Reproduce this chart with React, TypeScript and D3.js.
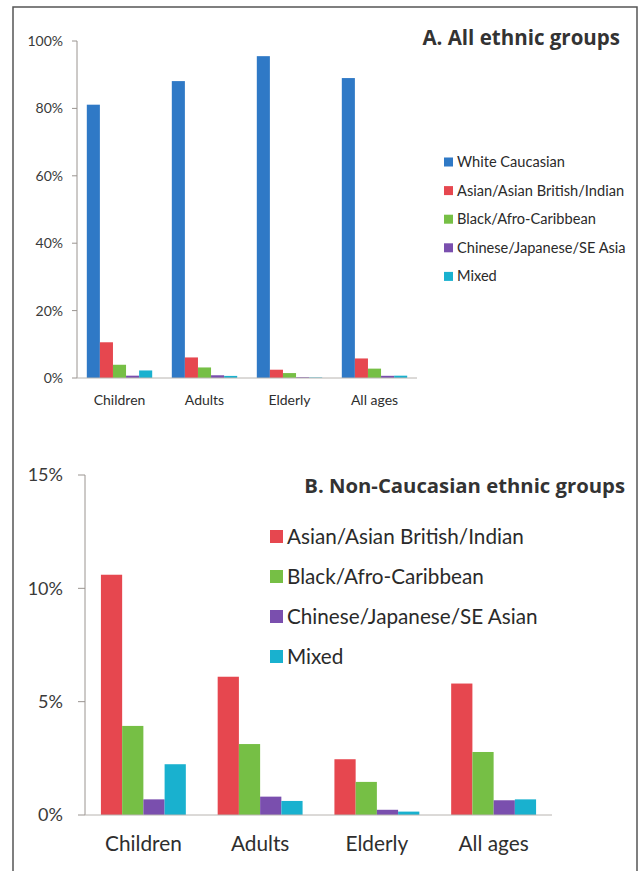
import * as d3 from "d3";

const categories = ["Children", "Adults", "Elderly", "All ages"];

const seriesA = [
  "White Caucasian",
  "Asian/Asian British/Indian",
  "Black/Afro-Caribbean",
  "Chinese/Japanese/SE Asia",
  "Mixed",
];
const seriesB = [
  "Asian/Asian British/Indian",
  "Black/Afro-Caribbean",
  "Chinese/Japanese/SE Asian",
  "Mixed",
];

// percent values per category (Children, Adults, Elderly, All ages)
const white = [81.1, 88.1, 95.5, 89.0];
const asian = [10.6, 6.1, 2.46, 5.8];
const black = [3.93, 3.13, 1.46, 2.78];
const chinese = [0.69, 0.81, 0.23, 0.65];
const mixed = [2.24, 0.62, 0.15, 0.69];

const ticksA = [0, 20, 40, 60, 80, 100];
const ticksB = [0, 5, 10, 15];

const colors = ["#2f79c6", "#e6474f", "#76bf45", "#7a4fae", "#19b1cf"];

const FONT = "Lato, 'Open Sans', sans-serif";
const TITLE_FONT = "'Open Sans', Lato, sans-serif";

interface PanelProps {
  title: string;
  names: string[];
  values: number[][];
  cols: string[];
  ticks: number[];
  yMax: number;
  x0: number;
  x1: number;
  yTop: number;
  yBottom: number;
  tickLen: number;
  tickGap: number;
  tickFont: number;
  catFont: number;
  catY: number;
  titleX: number;
  titleY: number;
  titleFont: number;
  legX: number;
  legY: number;
  legStep: number;
  legSw: number;
  legFont: number;
  legDy: number;
}

function Panel(p: PanelProps) {
  const x = d3.scaleBand().domain(categories).range([p.x0, p.x1]).padding(0);
  const inner = d3
    .scaleBand()
    .domain(p.names)
    .range([0, x.bandwidth()])
    .paddingInner(0)
    .paddingOuter(0.75);
  const y = d3.scaleLinear().domain([0, p.yMax]).range([p.yBottom, p.yTop]);

  return (
    <g>
      {/* bars */}
      {categories.map((c, ci) => (
        <g key={c} transform={`translate(${x(c)},0)`}>
          {p.names.map((s, si) => (
            <rect
              key={s}
              x={inner(s)}
              y={y(p.values[si][ci])}
              width={inner.bandwidth()}
              height={y(0) - y(p.values[si][ci])}
              fill={p.cols[si]}
            />
          ))}
        </g>
      ))}

      {/* axes */}
      <line x1={p.x0} x2={p.x0} y1={p.yTop} y2={p.yBottom} stroke="#9a9490" strokeWidth={1} />
      <line x1={p.x0} x2={p.x1} y1={p.yBottom} y2={p.yBottom} stroke="#b8b4b0" strokeWidth={1} />
      {p.ticks.map((t) => (
        <g key={t}>
          <line x1={p.x0 - p.tickLen} x2={p.x0} y1={y(t)} y2={y(t)} stroke="#9a9490" />
          <text
            x={p.x0 - p.tickLen - p.tickGap}
            y={y(t)}
            dy="0.36em"
            textAnchor="end"
            fontSize={p.tickFont}
            fill="#3a3a3a"
            fontFamily={FONT}
          >
            {t}%
          </text>
        </g>
      ))}
      {categories.map((c) => (
        <text
          key={c}
          x={(x(c) ?? 0) + x.bandwidth() / 2}
          y={p.catY}
          textAnchor="middle"
          fontSize={p.catFont}
          fill="#2e2e2e"
          fontFamily={FONT}
        >
          {c}
        </text>
      ))}

      {/* title */}
      <text
        x={p.titleX}
        y={p.titleY}
        textAnchor="end"
        fontSize={p.titleFont}
        fontWeight="bold"
        fill="#333"
        fontFamily={TITLE_FONT}
      >
        {p.title}
      </text>

      {/* legend */}
      {p.names.map((s, i) => {
        const cy = p.legY + i * p.legStep;
        return (
          <g key={s}>
            <rect x={p.legX} y={cy - p.legSw / 2} width={p.legSw} height={p.legSw} fill={p.cols[i]} />
            <text
              x={p.legX + p.legSw + 4}
              y={cy + p.legDy}
              fontSize={p.legFont}
              fill="#2a2a2a"
              fontFamily={FONT}
            >
              {s}
            </text>
          </g>
        );
      })}
    </g>
  );
}

export default function App() {
  return (
    <svg
      width={643}
      height={871}
      style={{ position: "absolute", left: 0, top: 0, background: "#fff" }}
    >
      <rect width={643} height={871} fill="#fff" />
      {/* outer frame */}
      <path d="M13,871 V7 H637 V871" fill="none" stroke="#555" strokeWidth={1.5} />

      <Panel
        title="A. All ethnic groups"
        names={seriesA}
        values={[white, asian, black, chinese, mixed]}
        cols={colors}
        ticks={ticksA}
        yMax={100}
        x0={77}
        x1={417}
        yTop={41}
        yBottom={378}
        tickLen={5}
        tickGap={9}
        tickFont={14}
        catFont={14}
        catY={405}
        titleX={620}
        titleY={45}
        titleFont={20.5}
        legX={444}
        legY={162}
        legStep={28.6}
        legSw={9}
        legFont={14.6}
        legDy={5}
      />

      <Panel
        title="B. Non-Caucasian ethnic groups"
        names={seriesB}
        values={[asian, black, chinese, mixed]}
        cols={colors.slice(1)}
        ticks={ticksB}
        yMax={15}
        x0={85}
        x1={552}
        yTop={475}
        yBottom={815}
        tickLen={7}
        tickGap={15}
        tickFont={18}
        catFont={20.8}
        catY={851}
        titleX={625}
        titleY={493}
        titleFont={20.3}
        legX={270}
        legY={536.5}
        legStep={40}
        legSw={13}
        legFont={20.7}
        legDy={7}
      />
    </svg>
  );
}
